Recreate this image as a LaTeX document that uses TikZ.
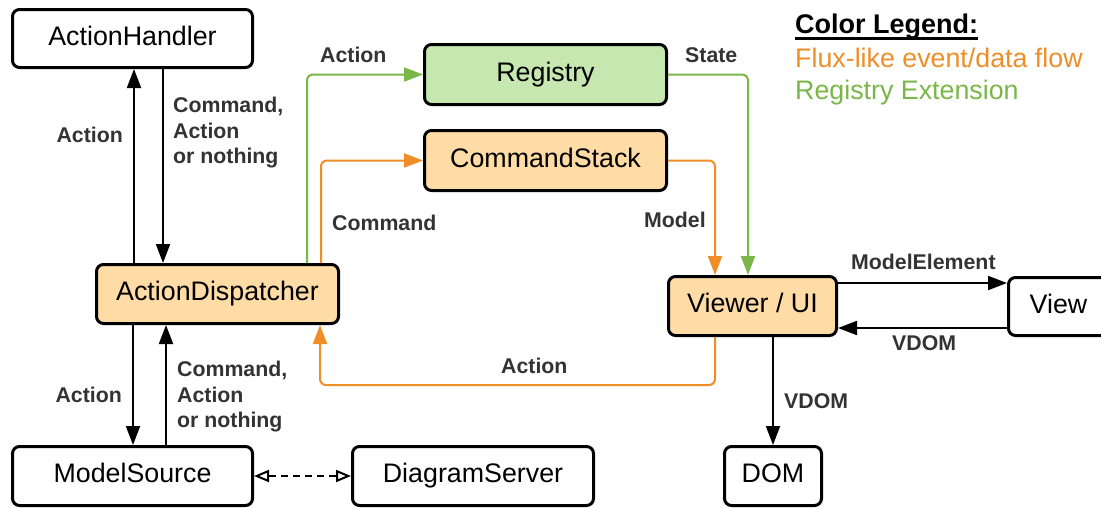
\documentclass[tikz,border=0pt]{standalone}
\usepackage{fontspec}
\setmainfont{Liberation Sans}
\usetikzlibrary{arrows.meta}
\definecolor{flux}{HTML}{EF8E26}
\definecolor{fluxfill}{HTML}{FFDBA6}
\definecolor{regx}{HTML}{7AB648}
\definecolor{regxfill}{HTML}{C6E7B0}
\definecolor{lbl}{HTML}{333333}
\begin{document}
\begin{tikzpicture}[x=1pt,y=-1pt,
  box/.style={draw=black, line width=3pt, rounded corners=7pt, inner sep=0pt,
    fill=white, text height=20pt, text depth=6.5pt, font=\fontsize{26.8}{30}\selectfont},
  fluxbox/.style={box, fill=fluxfill},
  regbox/.style={box, fill=regxfill},
  lab/.style={text=lbl, inner sep=0pt, font=\bfseries\fontsize{21.3}{25.5}\selectfont},
  legtext/.style={inner sep=0pt, anchor=base west, font=\fontsize{26.8}{30}\selectfont},
  flow/.style={line width=2pt, rounded corners=6pt, -{Triangle[length=19pt,width=14pt]}},
  dflow/.style={line width=2pt, dash pattern=on 7pt off 5pt,
    {Triangle[open,length=15pt,width=12pt]}-{Triangle[open,length=15pt,width=12pt]}},
]
\useasboundingbox (0,0) rectangle (1101,507);

% components
\node[box, minimum width=240pt, minimum height=58pt] (AH) at (132.5,38.5) {ActionHandler};
\node[regbox, minimum width=242pt, minimum height=60pt] (Reg) at (545.5,74.5) {Registry};
\node[fluxbox, minimum width=242pt, minimum height=60pt] (CS) at (545.5,160.5) {CommandStack};
\node[fluxbox, minimum width=242pt, minimum height=59pt] (AD) at (217.5,294) {ActionDispatcher};
\node[box, minimum width=240pt, minimum height=59pt] (MS) at (132.5,476) {ModelSource};
\node[box, minimum width=241pt, minimum height=59pt] (DS) at (473,476) {DiagramServer};
\node[fluxbox, minimum width=168pt, minimum height=59pt] (VUI) at (752.5,306) {Viewer / UI};
\node[box, minimum width=100pt, minimum height=58pt] (View) at (1058.5,306.5) {View};
\node[box, minimum width=97pt, minimum height=59pt] (DOM) at (773,476) {DOM};

% dispatcher <-> handler
\draw[flow] (AD.north -| 134,0) -- (AH.south -| 134,0);
\draw[flow] (AH.south -| 163,0) -- (AD.north -| 163,0);
\node[lab, anchor=base east] (l1) at (123,142) {Action};
\node[lab, anchor=north west, align=left] (l2) at (173,97) {Command,\\Action\\or nothing};

% dispatcher <-> model source
\draw[flow] (AD.south -| 133,0) -- (MS.north -| 133,0);
\draw[flow] (MS.north -| 166,0) -- (AD.south -| 166,0);
\node[lab, anchor=base east] (l3) at (122,402) {Action};
\node[lab, anchor=north west, align=left] (l4) at (177,361) {Command,\\Action\\or nothing};

% model source <-> diagram server
\draw[dflow] (MS.east) -- (DS.west);

% dispatcher -> registry / command stack
\draw[flow, regx] (AD.north -| 307,0) |- (Reg.west);
\draw[flow, flux] (AD.north -| 321,0) |- (CS.west);
\node[lab, anchor=base west] (l5) at (320,62) {Action};
\node[lab, anchor=base west] (l6) at (332,230) {Command};

% registry / command stack -> viewer
\draw[flow, regx] (Reg.east) -| (VUI.north -| 748,0);
\draw[flow, flux] (CS.east) -| (VUI.north -| 715,0);
\node[lab, anchor=base west] (l7) at (685,62) {State};
\node[lab, anchor=base west] (l8) at (644,227) {Model};

% viewer -> dispatcher
\coordinate (back1) at (715,385);
\coordinate (back2) at (320,385);
\draw[flow, flux] (VUI.south -| back1) -- (back1) -- (back2) -- (AD.south -| back2);
\node[lab, anchor=base west] (l9) at (501,373) {Action};

% viewer <-> view, viewer -> DOM
\draw[flow] (VUI.east |- 0,283) -- (View.west |- 0,283);
\draw[flow] (View.west |- 0,328) -- (VUI.east |- 0,328);
\draw[flow] (VUI.south -| DOM.north) -- (DOM.north);
\node[lab, anchor=base west] (l10) at (851,269) {ModelElement};
\node[lab, anchor=base west] (l11) at (892,350) {VDOM};
\node[lab, anchor=base west] (l12) at (784,408) {VDOM};

% legend
\node[legtext, font=\bfseries\fontsize{27}{32}\selectfont] (lg) at (795,33) {Color Legend:};
\draw[line width=2.5pt] ([yshift=-5.5pt]lg.base west) -- ([yshift=-5.5pt]lg.base east);
\node[legtext, text=flux] (lgf) at (795,67) {Flux-like event/data flow};
\node[legtext, text=regx] (lgr) at (795,99) {Registry Extension};
\end{tikzpicture}
\end{document}
